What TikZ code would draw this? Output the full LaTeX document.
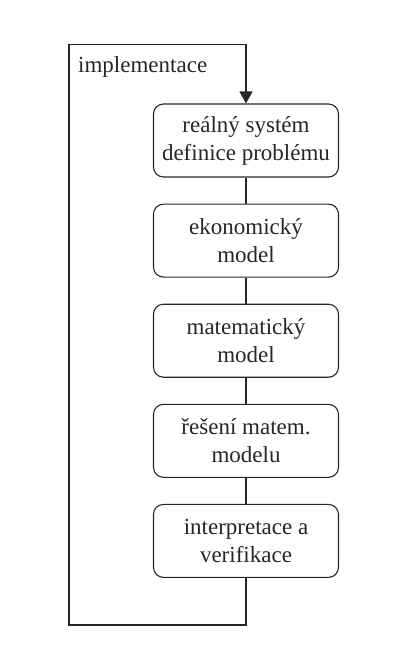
\documentclass[tikz,border=0pt]{standalone}
\usepackage{fontspec}
\setmainfont{Liberation Serif}
\usetikzlibrary{positioning,arrows.meta}

\tikzset{
  stage/.style={draw=black!85, line width=1.1pt, rounded corners=10pt,
    minimum width=185pt, minimum height=73pt, align=center,
    font=\fontsize{23}{28}\selectfont, text=black!85, inner sep=2pt},
  link/.style={draw=black!85, line width=1.1pt}
}

\begin{document}
\begin{tikzpicture}[x=1pt,y=1pt,node distance=26pt]

\useasboundingbox (0,0) rectangle (409,-649);

\node[stage] (real) at (246,-140.5) {reálný systém\\definice problému};
\node[stage, below=of real] (ekon) {ekonomický\\model};
\node[stage, below=of ekon] (matem) {matematický\\model};
\node[stage, below=of matem] (reseni) {řešení matem.\\modelu};
\node[stage, below=of reseni] (interp) {interpretace a\\verifikace};

\draw[link] (real) -- (ekon);
\draw[link] (ekon) -- (matem);
\draw[link] (matem) -- (reseni);
\draw[link] (reseni) -- (interp);

% zpetna vazba
\coordinate (dole) at ([yshift=-47pt]interp.south);
\coordinate (nahore) at ([yshift=59pt]real.north);
\draw[link, -{Triangle[length=12pt,width=13pt]}]
  (interp.south) -- (dole) -- (dole -| 69,0) -- (nahore -| 69,0) -- (nahore) -- (real.north);

\node[anchor=base west, font=\fontsize{23}{28}\selectfont, text=black!85, inner sep=0pt]
  (impl) at (78,-72) {implementace};

\end{tikzpicture}
\end{document}
